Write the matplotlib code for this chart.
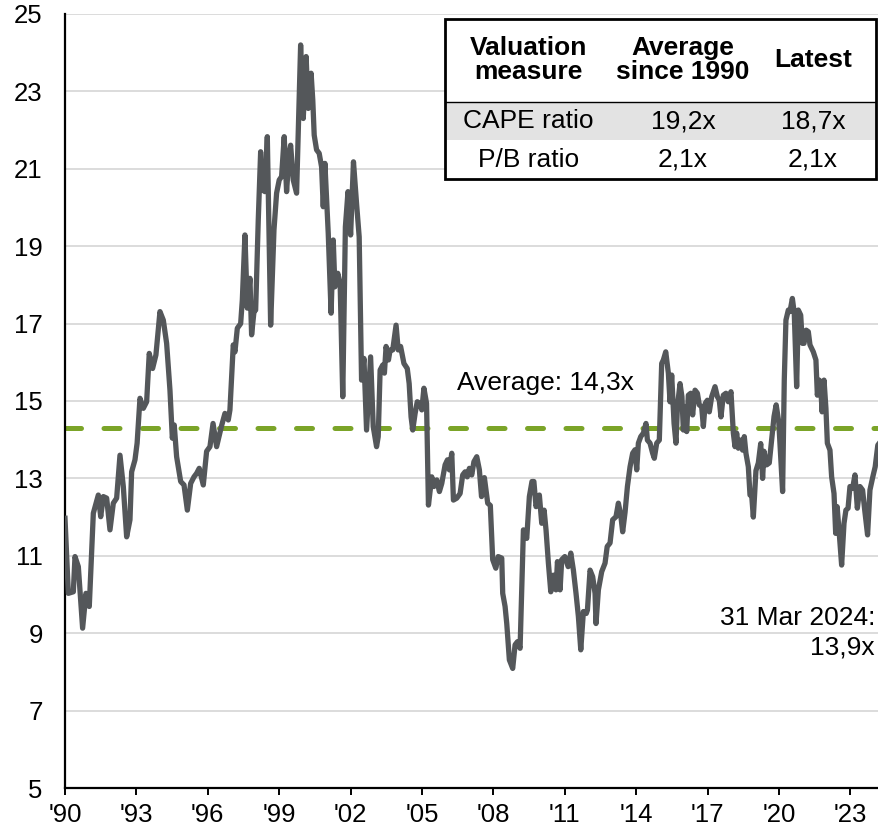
import matplotlib
matplotlib.use("Agg")
import matplotlib.pyplot as plt
from matplotlib.patches import Rectangle

plt.rcParams["font.family"] = ["Liberation Sans", "DejaVu Sans"]

# Monthly-ish CAPE readings (decimal year, ratio)
dates = [
    1990.00, 1990.14, 1990.35, 1990.42, 1990.56, 1990.74, 1990.88, 1991.02, 1991.19, 1991.40,
    1991.50, 1991.61, 1991.75, 1991.89, 1992.03, 1992.17, 1992.31, 1992.45, 1992.59, 1992.73,
    1992.80, 1992.94, 1993.03, 1993.15, 1993.29, 1993.43, 1993.54, 1993.68, 1993.82, 1993.99,
    1994.13, 1994.27, 1994.41, 1994.51, 1994.59, 1994.69, 1994.86, 1995.00, 1995.14, 1995.28,
    1995.42, 1995.53, 1995.64, 1995.81, 1995.95, 1996.09, 1996.22, 1996.37, 1996.57, 1996.72,
    1996.86, 1996.93, 1997.07, 1997.14, 1997.24, 1997.38, 1997.45, 1997.56, 1997.66, 1997.77,
    1997.84, 1997.94, 1998.01, 1998.12, 1998.22, 1998.30, 1998.40, 1998.50, 1998.64, 1998.78,
    1998.89, 1999.00, 1999.10, 1999.21, 1999.31, 1999.41, 1999.48, 1999.59, 1999.73, 1999.90,
    2000.01, 2000.13, 2000.22, 2000.34, 2000.41, 2000.47, 2000.57, 2000.68, 2000.78, 2000.85,
    2000.92, 2001.06, 2001.18, 2001.27, 2001.34, 2001.46, 2001.56, 2001.67, 2001.78, 2001.89,
    2002.00, 2002.12, 2002.25, 2002.36, 2002.46, 2002.56, 2002.67, 2002.84, 2002.95, 2003.09,
    2003.16, 2003.24, 2003.35, 2003.42, 2003.49, 2003.59, 2003.66, 2003.77, 2003.91, 2004.00,
    2004.10, 2004.24, 2004.38, 2004.46, 2004.54, 2004.61, 2004.71, 2004.80, 2004.92, 2004.99,
    2005.08, 2005.19, 2005.27, 2005.41, 2005.50, 2005.62, 2005.73, 2005.83, 2005.97, 2006.07,
    2006.15, 2006.25, 2006.32, 2006.46, 2006.60, 2006.71, 2006.81, 2006.90, 2006.99, 2007.09,
    2007.18, 2007.30, 2007.41, 2007.50, 2007.62, 2007.76, 2007.87, 2007.97, 2008.10, 2008.20,
    2008.35, 2008.39, 2008.49, 2008.56, 2008.67, 2008.81, 2008.91, 2009.01, 2009.12, 2009.26,
    2009.40, 2009.51, 2009.62, 2009.70, 2009.79, 2009.93, 2010.03, 2010.13, 2010.21, 2010.31,
    2010.41, 2010.52, 2010.63, 2010.69, 2010.80, 2010.87, 2011.00, 2011.14, 2011.25, 2011.36,
    2011.47, 2011.57, 2011.67, 2011.78, 2011.90, 2011.95, 2012.06, 2012.17, 2012.27, 2012.31,
    2012.41, 2012.55, 2012.69, 2012.78, 2012.90, 2013.01, 2013.15, 2013.25, 2013.35, 2013.43,
    2013.53, 2013.63, 2013.74, 2013.85, 2013.95, 2014.02, 2014.09, 2014.19, 2014.30, 2014.41,
    2014.47, 2014.58, 2014.69, 2014.76, 2014.86, 2014.97, 2015.07, 2015.14, 2015.24, 2015.35,
    2015.42, 2015.49, 2015.59, 2015.67, 2015.73, 2015.84, 2015.92, 2015.98, 2016.06, 2016.12,
    2016.19, 2016.29, 2016.37, 2016.47, 2016.57, 2016.65, 2016.75, 2016.82, 2016.90, 2016.99,
    2017.07, 2017.17, 2017.31, 2017.41, 2017.49, 2017.56, 2017.66, 2017.77, 2017.87, 2017.98,
    2018.08, 2018.15, 2018.22, 2018.29, 2018.39, 2018.47, 2018.54, 2018.61, 2018.71, 2018.78,
    2018.85, 2018.92, 2019.03, 2019.13, 2019.23, 2019.31, 2019.37, 2019.48, 2019.59, 2019.69,
    2019.79, 2019.88, 2019.99, 2020.15, 2020.22, 2020.29, 2020.39, 2020.46, 2020.56, 2020.64,
    2020.74, 2020.81, 2020.91, 2020.98, 2021.05, 2021.14, 2021.23, 2021.30, 2021.44, 2021.55,
    2021.61, 2021.69, 2021.75, 2021.81, 2021.89, 2021.97, 2022.03, 2022.14, 2022.21, 2022.31,
    2022.38, 2022.44, 2022.53, 2022.63, 2022.73, 2022.81, 2022.90, 2022.98, 2023.09, 2023.19,
    2023.29, 2023.40, 2023.51, 2023.60, 2023.72, 2023.82, 2023.94, 2024.04, 2024.15, 2024.20,
]
cape = [
    11.97, 10.03, 10.07, 10.98, 10.72, 9.13, 10.03, 9.69, 12.10, 12.57,
    12.01, 12.53, 12.49, 11.67, 12.36, 12.49, 13.60, 12.79, 11.49, 11.93,
    13.17, 13.48, 13.91, 15.07, 14.81, 14.98, 16.23, 15.84, 16.19, 17.31,
    17.09, 16.49, 15.28, 14.04, 14.38, 13.56, 12.92, 12.83, 12.18, 12.87,
    13.04, 13.13, 13.26, 12.83, 13.70, 13.82, 14.42, 13.82, 14.34, 14.68,
    14.51, 14.77, 16.45, 16.27, 16.88, 17.00, 17.61, 19.29, 17.40, 18.17,
    16.71, 17.31, 17.35, 19.68, 21.44, 20.45, 20.41, 21.83, 16.96, 19.42,
    20.37, 20.71, 20.80, 21.83, 20.41, 21.36, 21.61, 20.71, 20.37, 24.20,
    22.30, 23.90, 22.56, 23.47, 22.78, 21.87, 21.49, 21.40, 21.05, 20.02,
    21.14, 19.33, 17.27, 19.16, 17.95, 18.30, 18.04, 15.11, 19.50, 20.41,
    19.29, 21.18, 20.10, 19.24, 15.54, 16.10, 14.25, 16.14, 14.34, 13.82,
    14.08, 15.80, 15.93, 15.72, 16.41, 16.06, 16.32, 16.32, 16.96, 16.32,
    16.41, 15.97, 15.84, 15.45, 14.59, 14.25, 14.68, 14.98, 14.94, 14.77,
    15.33, 14.94, 12.31, 13.04, 12.79, 12.96, 12.66, 12.87, 13.35, 13.48,
    13.22, 13.65, 12.44, 12.49, 12.61, 13.09, 13.17, 13.04, 13.26, 13.09,
    13.43, 13.56, 13.22, 12.53, 13.02, 12.36, 12.30, 10.90, 10.68, 10.98,
    10.94, 10.03, 9.69, 9.25, 8.31, 8.09, 8.70, 8.78, 8.61, 11.67,
    11.45, 12.53, 12.92, 12.92, 12.27, 12.57, 11.84, 12.18, 11.67, 10.81,
    10.07, 10.50, 10.12, 10.85, 10.12, 10.90, 10.98, 10.72, 11.07, 10.63,
    10.03, 9.43, 8.57, 9.56, 9.51, 9.60, 10.63, 10.46, 10.03, 9.25,
    10.12, 10.59, 10.81, 11.24, 11.33, 11.93, 12.01, 12.36, 12.05, 11.62,
    12.12, 12.79, 13.30, 13.65, 13.74, 13.22, 13.91, 14.08, 14.17, 14.42,
    13.99, 13.91, 13.65, 13.52, 13.91, 13.99, 15.97, 16.06, 16.27, 15.72,
    14.98, 15.67, 14.42, 13.91, 14.85, 15.45, 15.11, 14.25, 14.85, 14.21,
    15.15, 15.20, 14.64, 15.28, 15.20, 14.90, 14.85, 14.34, 14.94, 15.02,
    14.72, 15.11, 15.37, 15.11, 15.02, 14.59, 15.15, 15.20, 14.98, 15.24,
    14.17, 13.82, 14.17, 13.78, 13.99, 13.73, 14.08, 13.65, 13.30, 12.57,
    12.57, 12.00, 13.20, 13.40, 13.90, 13.00, 13.70, 13.35, 13.40, 14.00,
    14.60, 14.90, 14.45, 12.66, 15.54, 17.09, 17.35, 17.31, 17.65, 17.27,
    15.37, 17.35, 17.22, 16.49, 16.49, 16.83, 16.79, 16.45, 16.27, 16.06,
    15.15, 15.54, 15.37, 14.72, 15.54, 14.81, 13.91, 13.73, 13.04, 12.61,
    11.58, 12.27, 11.58, 10.76, 11.84, 12.18, 12.23, 12.79, 12.74, 13.09,
    12.23, 12.79, 12.70, 12.18, 11.54, 12.70, 13.04, 13.30, 13.86, 13.90,
]

average = 14.3
latest_label = "31 Mar 2024:"
latest_value = "13,9x"

tick_years = list(range(1990, 2024, 3))
tick_labels = ["'" + str(y)[2:] for y in tick_years]
y_ticks = list(range(5, 26, 2))

table_header = ["Valuation\nmeasure", "Average\nsince 1990", "Latest"]
table_rows = [
    ["CAPE ratio", "19,2x", "18,7x"],
    ["P/B ratio", "2,1x", "2,1x"],
]

LINE = "#54575A"
GREEN = "#7BA428"
GRID = "#D9D9D9"
FS = 19

fig = plt.figure(figsize=(8.79, 8.32), dpi=100)
ax = fig.add_axes([65 / 879, 1 - 788 / 832, 1 - 65 / 879, (788 - 14) / 832])

ax.set_ylim(5, 25)
ax.set_xlim(1990, 2024.2)
ax.set_yticks(y_ticks)
ax.set_xticks(tick_years)
ax.set_xticklabels(tick_labels)
ax.yaxis.grid(True, color=GRID, linewidth=1.3)
ax.set_axisbelow(True)

for s in ["top", "right"]:
    ax.spines[s].set_visible(False)
for s in ["left", "bottom"]:
    ax.spines[s].set_linewidth(1.6)
    ax.spines[s].set_color("black")

ax.tick_params(axis="y", length=0, pad=16, labelsize=FS - 0.5)
ax.tick_params(axis="x", length=5, width=1.4, direction="out", pad=6, labelsize=FS - 0.5)

ax.axhline(average, color=GREEN, linewidth=3.6, dashes=(3.2, 4.5),
           dash_capstyle="round", zorder=2)
ax.plot(dates, cape, color=LINE, linewidth=3.8, solid_joinstyle="round", zorder=3)

ax.text(2006.47, 15.28, "Average: 14,3x", fontsize=FS, ha="left", va="baseline")
ax.text(0.995, 9.21, latest_label, fontsize=FS, ha="right", va="baseline",
        transform=ax.get_yaxis_transform())
ax.text(0.995, 8.44, latest_value, fontsize=FS, ha="right", va="baseline",
        transform=ax.get_yaxis_transform())

# Summary table in the upper right
tab = fig.add_axes([445 / 879, 1 - 179 / 832, (876 - 445) / 879, (179 - 19) / 832])
tab.set_xlim(0, 1)
tab.set_ylim(0, 1)
tab.axis("off")
tab.add_patch(Rectangle((0, 0), 1, 1, facecolor="white", edgecolor="none", zorder=0))
tab.add_patch(Rectangle((0, 0.244), 1, 0.481 - 0.244, facecolor="#E3E3E3",
                        edgecolor="none", zorder=1))
tab.plot([0, 1], [0.481, 0.481], color="black", linewidth=1.0, zorder=2)
tab.add_patch(Rectangle((0, 0), 1, 1, facecolor="none", edgecolor="black",
                        linewidth=2.0, zorder=3, clip_on=False))

col_x = [0.193, 0.552, 0.854]
for x, h in zip(col_x, table_header):
    tab.text(x, 0.744, h, fontsize=FS, fontweight="bold", ha="center", va="center",
             linespacing=1.0, zorder=4)
for y, row in zip([0.3625, 0.119], table_rows):
    for x, cell in zip(col_x, row):
        tab.text(x, y, cell, fontsize=FS, ha="center", va="center", zorder=4)

fig.savefig("out.png", dpi=100)
